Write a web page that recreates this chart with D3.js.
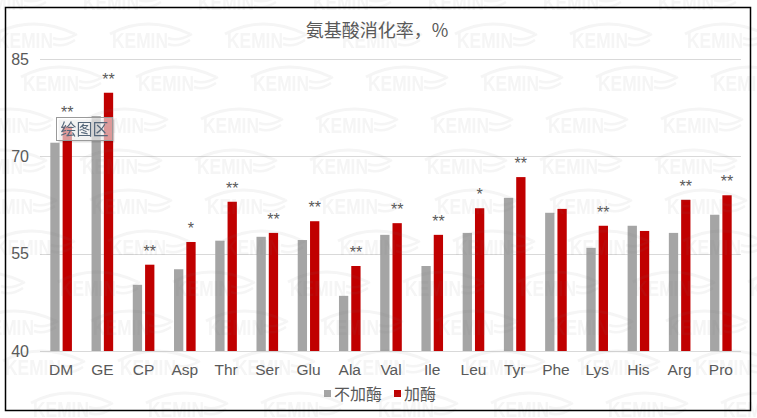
<!DOCTYPE html>
<html>
<head>
<meta charset="utf-8">
<script src="https://cdn.jsdelivr.net/npm/d3@7"></script>
<style>
  body { margin: 0; background: #fff; }
  svg { display: block; }
</style>
</head>
<body>
<svg id="chart" width="757" height="418"></svg>
<script>
const categories = ["DM", "GE", "CP", "Asp", "Thr", "Ser", "Glu", "Ala", "Val",
    "Ile", "Leu", "Tyr", "Phe", "Lys", "His", "Arg", "Pro"]
const seriesNames = ["不加酶", "加酶"]
const noEnzyme = [72.1, 76.2, 50.2, 52.6, 57.0, 57.6, 57.1, 48.5, 57.9,
    53.1, 58.2, 63.6, 61.3, 55.9, 59.3, 58.2, 61.0]
const withEnzyme = [74.6, 79.8, 53.3, 56.8, 63.0, 58.2, 60.0, 53.1, 59.7,
    57.9, 62.0, 66.8, 61.9, 59.3, 58.5, 63.3, 64.0]
const marks = ["**", "**", "**", "*", "**", "**", "**", "**", "**",
    "**", "*", "**", "", "**", "", "**", "**"]
const yTicks = [40, 55, 70, 85]
const title = "氨基酸消化率，%"

const latin = "'Liberation Sans', Arial, sans-serif"
const cjk = "'Noto Sans CJK SC', 'Liberation Sans', sans-serif"
const colors = d3.scaleOrdinal().domain(seriesNames).range(["#a5a5a5", "#c00000"])

const svg = d3.select("#chart")
svg.append("rect").attr("width", 757).attr("height", 418).attr("fill", "#fff")

const x0 = d3.scaleBand()
    .domain(categories)
    .range([40.5, 741.5])
    .paddingInner(0.476)
    .paddingOuter(0.238)

const x1 = d3.scaleBand()
    .domain(seriesNames)
    .range([0, x0.bandwidth()])
    .paddingInner(0.244)

const y = d3.scaleLinear().domain([40, 85]).range([351, 59])

// gridlines
svg.append("g")
    .selectAll("line")
    .data(yTicks)
    .enter()
    .append("line")
    .attr("x1", 40).attr("x2", 741)
    .attr("y1", d => Math.round(y(d)) + 0.5)
    .attr("y2", d => Math.round(y(d)) + 0.5)
    .attr("stroke", "#d9d9d9")
    .attr("stroke-width", 1)

// y axis labels
const yAxis = svg.append("g")
    .attr("transform", "translate(29,0)")
    .call(d3.axisLeft(y).tickValues(yTicks).tickSize(0).tickPadding(0))
yAxis.select(".domain").remove()
yAxis.selectAll("text")
    .attr("fill", "#595959")
    .style("font-family", latin)
    .style("font-size", "16px")

// x axis labels
const xAxis = svg.append("g")
    .attr("transform", "translate(0,351)")
    .call(d3.axisBottom(x0).tickSize(0).tickPadding(13))
xAxis.select(".domain").remove()
xAxis.selectAll("text")
    .attr("fill", "#595959")
    .style("font-family", latin)
    .style("font-size", "15.5px")

// bars
const rows = categories.map((c, i) => ({
    cat: c,
    mark: marks[i],
    vals: [
        { name: seriesNames[0], value: noEnzyme[i] },
        { name: seriesNames[1], value: withEnzyme[i] }
    ]
}))

const groups = svg.append("g")
    .selectAll("g")
    .data(rows)
    .enter()
    .append("g")
    .attr("transform", d => `translate(${x0(d.cat)},0)`)

groups.selectAll("rect")
    .data(d => d.vals)
    .enter()
    .append("rect")
    .attr("x", d => x1(d.name))
    .attr("width", x1.bandwidth())
    .attr("y", d => y(d.value))
    .attr("height", d => y(40) - y(d.value))
    .attr("fill", d => colors(d.name))

// significance marks over the enzyme bar
groups.append("text")
    .attr("x", x1(seriesNames[1]) + x1.bandwidth() / 2)
    .attr("y", d => y(d.vals[1].value) - 8)
    .attr("text-anchor", "middle")
    .attr("fill", "#595959")
    .style("font-family", latin)
    .style("font-size", "16px")
    .text(d => d.mark)

// title
svg.append("text")
    .attr("x", 377)
    .attr("y", 37)
    .attr("text-anchor", "middle")
    .attr("fill", "#595959")
    .style("font-family", cjk)
    .style("font-size", "18px")
    .text(title)

// legend
const legend = svg.append("g")
    .selectAll("g")
    .data(seriesNames)
    .enter()
    .append("g")
    .attr("transform", (d, i) => `translate(${i == 0 ? 324 : 394},390)`)
legend.append("rect")
    .attr("width", 7).attr("height", 7)
    .attr("fill", d => colors(d))
legend.append("text")
    .attr("x", 10).attr("y", 10)
    .attr("fill", "#595959")
    .style("font-family", cjk)
    .style("font-size", "16px")
    .text(d => d)

// watermark
const wmRows = [[2, 83], [40, -3], [83, 23], [125, 88], [166, 82], [206, 92],
    [247, 110], [288, 60], [327, 93], [367, 5], [409, 33]]
const wm = svg.append("g").attr("opacity", 0.075).attr("fill", "#777").attr("stroke", "#777")
wmRows.forEach(([cy, off]) => {
    for (let sx = off - 115; sx < 757; sx += 115) {
        const g = wm.append("g").attr("transform", `translate(${sx},${cy})`)
        g.append("path")
            .attr("d", "M-2,-6 Q35,-26 78,-6")
            .attr("fill", "none")
            .attr("stroke-width", 3)
        g.append("text")
            .attr("x", 0).attr("y", 8)
            .attr("stroke", "none")
            .attr("textLength", 56)
            .attr("lengthAdjust", "spacingAndGlyphs")
            .style("font-family", latin)
            .style("font-weight", "bold")
            .style("font-size", "22px")
            .text("KEMIN")
        g.append("path")
            .attr("d", "M56,-2 Q66,2 80,-6 M56,4 Q66,8 78,0")
            .attr("fill", "none")
            .attr("stroke-width", 2.5)
    }
})

// outer frame
svg.append("rect")
    .attr("x", 5.5).attr("y", 7.5)
    .attr("width", 745).attr("height", 403)
    .attr("fill", "none")
    .attr("stroke", "#000")
    .attr("stroke-width", 1.5)

// hover tip left on the plot area
const tip = svg.append("g").attr("transform", "translate(56.5,117.5)")
tip.append("rect")
    .attr("x", 2).attr("y", 2).attr("width", 56).attr("height", 23)
    .attr("fill", "#000").attr("opacity", 0.12)
tip.append("rect")
    .attr("width", 56).attr("height", 23)
    .attr("fill", "#fff").attr("fill-opacity", 0.6)
    .attr("stroke", "#9a9a9a")
tip.append("text")
    .attr("x", 4).attr("y", 17)
    .attr("fill", "#55677a")
    .style("font-family", cjk)
    .style("font-size", "16px")
    .text("绘图区")
</script>
</body>
</html>
